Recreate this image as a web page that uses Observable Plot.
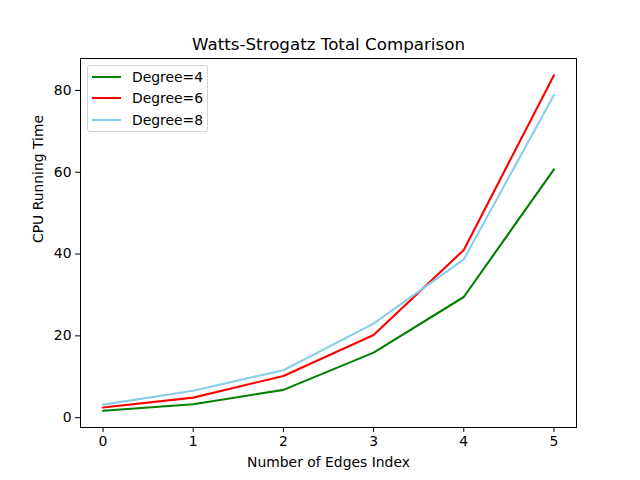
<!DOCTYPE html>
<html><head><meta charset="utf-8">
<script src="https://cdn.jsdelivr.net/npm/d3@7"></script>
<script src="https://cdn.jsdelivr.net/npm/@observablehq/plot@0.6"></script>
<style>
body{margin:0;background:#fff}
#wrap{position:relative;width:640px;height:480px;font-family:"DejaVu Sans",sans-serif}
#legend{position:absolute;left:87px;top:65px;width:119px;height:65px;border:1px solid #d4d4d4;border-radius:3px;background:rgba(255,255,255,0.8)}
.item{position:absolute;left:0;height:20px;font-size:13.9px;color:#000}
.sw{position:absolute;left:4px;width:29px;height:2px;top:9px}
.lb{position:absolute;left:44px;top:0;line-height:20px;white-space:nowrap}
</style>
</head><body><div id="wrap"></div>
<script>
const xIndex = [0, 1, 2, 3, 4, 5];
const degree4 = [1.7, 3.3, 6.8, 15.9, 29.5, 60.7];
const degree6 = [2.5, 4.9, 10.2, 20.2, 41.0, 83.7];
const degree8 = [3.2, 6.6, 11.6, 23.0, 38.7, 78.9];
const seriesNames = ["Degree=4", "Degree=6", "Degree=8"];
const seriesColors = ["green", "red", "#87CEEB"];
const yTicks = [0, 20, 40, 60, 80];
const xTicks = [0, 1, 2, 3, 4, 5];
const titleText = "Watts-Strogatz Total Comparison";
const xLabel = "Number of Edges Index";
const yLabel = "CPU Running Time";

const allSeries = [degree4, degree6, degree8];
const rows = [];
allSeries.forEach((vals, s) => vals.forEach((v, i) => rows.push({x: xIndex[i], y: v, series: seriesNames[s]})));

const chart = Plot.plot({
  width: 640, height: 480,
  marginLeft: 80, marginRight: 64, marginTop: 58, marginBottom: 53,
  style: {fontFamily: "DejaVu Sans, sans-serif", fontSize: "13.9px", color: "#000", background: "#fff"},
  x: {domain: [-0.25, 5.25], ticks: xTicks, tickSize: 5, tickPadding: 4, label: null, tickFormat: d => String(d)},
  y: {domain: [-2.4, 87.8], ticks: yTicks, tickSize: 5, tickPadding: 4, label: null, tickFormat: d => String(d)},
  color: {domain: seriesNames, range: seriesColors},
  marks: [
    Plot.axisX({ticks: xTicks, tickSize: 5, tickPadding: 4, label: null, tickFormat: d => String(d), stroke: "#000"}),
    Plot.axisY({ticks: yTicks, tickSize: 5, tickPadding: 4, label: null, tickFormat: d => String(d), stroke: "#000"}),
    Plot.line(rows, {x: "x", y: "y", z: "series", stroke: "series", strokeWidth: 2.1}),
    Plot.frame({stroke: "#000", strokeWidth: 1}),
    Plot.text([titleText], {frameAnchor: "top", lineAnchor: "middle", dy: -14, text: d => d, fontSize: 16.7, fill: "#000"}),
    Plot.text([xLabel], {frameAnchor: "bottom", lineAnchor: "middle", dy: 35, text: d => d, fontSize: 13.9, fill: "#000"}),
    Plot.text([yLabel], {frameAnchor: "left", lineAnchor: "middle", dx: -42, rotate: -90, text: d => d, fontSize: 13.9, fill: "#000"})
  ]
});
const wrap = document.getElementById("wrap");
wrap.appendChild(chart);

const legend = document.createElement("div");
legend.id = "legend";
seriesNames.forEach((name, i) => {
  const item = document.createElement("div");
  item.className = "item";
  item.style.top = (1 + i * 21.3) + "px";
  item.style.width = "119px";
  const sw = document.createElement("div");
  sw.className = "sw";
  sw.style.background = seriesColors[i];
  const lb = document.createElement("div");
  lb.className = "lb";
  lb.textContent = name;
  item.appendChild(sw); item.appendChild(lb);
  legend.appendChild(item);
});
wrap.appendChild(legend);
</script>
</body></html>
